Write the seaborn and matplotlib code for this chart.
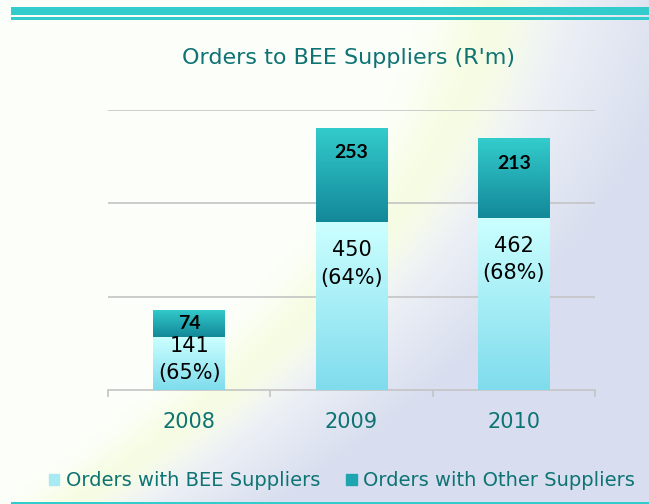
import numpy as np
import pandas as pd
import seaborn as sns
import matplotlib.pyplot as plt
from matplotlib.colors import LinearSegmentedColormap
from matplotlib.patches import Patch

# values (R'm)
years = ['2008', '2009', '2010']
bee_orders = [141, 450, 462]
other_orders = [74, 253, 213]
bee_pct = [65, 64, 68]

TEAL = '#33CCCC'
TEXT_TEAL = '#0E7373'

df = pd.DataFrame({'year': years, 'bee': bee_orders, 'other': other_orders})
df['total'] = df['bee'] + df['other']

sns.set_style('white')
plt.rcParams['font.family'] = ['DejaVu Sans']

fig = plt.figure(figsize=(6.49, 5.04), dpi=100)

# background: white on the left, lavender on the right, pale yellow-green swoosh between
bg = fig.add_axes([0, 0, 1, 1], zorder=-10)
gx, gy = np.meshgrid(np.linspace(0, 1, 400), np.linspace(0, 1, 300))
centre = 0.76 - 0.15 * gy - 0.5 * gy ** 2
base = np.clip((gx - centre) / 0.32, 0, 1)[..., None] ** 0.8
white = np.array([0.99, 1.0, 0.98])
lav = np.array([0.85, 0.87, 0.94])
img = white * (1 - base) + lav * base
streak = np.exp(-((gx - centre) / 0.07) ** 2)[..., None]
yg = np.array([0.96, 0.99, 0.87])
img = img * (1 - 0.8 * streak) + yg * 0.8 * streak
bg.imshow(img, aspect='auto', extent=(0, 1, 0, 1), origin='upper')
bg.set_xlim(0, 1)
bg.set_ylim(0, 1)
bg.axis('off')

# teal rules top and bottom
for y0, h in [(504 - 15, 8), (504 - 20, 3), (0, 2.5)]:
    fig.add_artist(plt.Rectangle((11 / 649, y0 / 504), 1, h / 504, color=TEAL, lw=0,
                                 transform=fig.transFigure))

ax = fig.add_axes([108 / 649, 1 - 390 / 504, 487 / 649, 280 / 504])
ax.patch.set_alpha(0)

sns.barplot(data=df, x='year', y='total', color='#1A9AA8', width=0.44, ax=ax, zorder=2)
sns.barplot(data=df, x='year', y='bee', color='#AEEFF5', width=0.44, ax=ax, zorder=3)

top_cmap = LinearSegmentedColormap.from_list('top', ['#138899', '#33CCCC'])
low_cmap = LinearSegmentedColormap.from_list('low', ['#7FDCEC', '#CCFFFF'])
grad = np.linspace(0, 1, 256).reshape(-1, 1)

n = len(years)
tot_patches = ax.patches[:n]
bee_patches = ax.patches[n:2 * n]
for tp, bp in zip(tot_patches, bee_patches):
    x0, w = tp.get_x(), tp.get_width()
    im = ax.imshow(grad, cmap=top_cmap, aspect='auto', origin='lower',
                   extent=(x0, x0 + w, bp.get_height(), tp.get_height()), zorder=2.5)
    im.set_clip_path(tp)
    im = ax.imshow(grad, cmap=low_cmap, aspect='auto', origin='lower',
                   extent=(x0, x0 + w, 0, bp.get_height()), zorder=3.5)
    im.set_clip_path(bp)
    tp.set_alpha(0)
    bp.set_alpha(0)

ax.set_xlim(-0.5, n - 0.5)
ax.set_ylim(0, 750)

# value labels
px_per_unit = 280 / 750
for i, row in df.iterrows():
    top_px = row['other'] * px_per_unit
    ax.annotate(str(row['other']), xy=(i, row['total']), xytext=(0, -min(25, top_px / 2) * 0.72),
                textcoords='offset points', ha='center', va='center',
                fontsize=14, fontweight='bold', family='Lato', color='black', zorder=5)
    low_px = row['bee'] * px_per_unit
    ax.annotate(f"{row['bee']}\n({bee_pct[i]}%)", xy=(i, row['bee']),
                xytext=(0, -min(42, low_px / 2 - 4) * 0.72),
                textcoords='offset points', ha='center', va='center',
                fontsize=15, color='black', linespacing=1.45, zorder=5)

ax.set_yticks([250, 500, 750])
ax.set_yticklabels([])
ax.tick_params(axis='y', length=0)
ax.yaxis.grid(True, color='#C4C4C4', lw=1.2, zorder=0)
ax.set_axisbelow(True)
for s in ['top', 'right', 'left']:
    ax.spines[s].set_visible(False)
ax.spines['bottom'].set_color('#C4C4C4')
ax.spines['bottom'].set_linewidth(1.2)

ax.set_xticks(range(n))
ax.set_xticklabels(years, color=TEXT_TEAL, fontsize=15)
ax.tick_params(axis='x', length=0, pad=16)
ax.set_xticks(np.arange(-0.5, n, 1), minor=True)
ax.tick_params(axis='x', which='minor', bottom=True, length=5, color='#C4C4C4', width=1.2)
ax.set_xlabel('')
ax.set_ylabel('')

fig.text(348 / 649, 1 - 58 / 504, "Orders to BEE Suppliers (R'm)", ha='center', va='center',
         fontsize=16, color=TEXT_TEAL)

handles = [Patch(color='#A8EAF3', label='Orders with BEE Suppliers'),
           Patch(color='#1FA5B0', label='Orders with Other Suppliers')]
leg = fig.legend(handles=handles, loc='center', bbox_to_anchor=(0.527, 1 - 481 / 504), ncol=2,
                 frameon=False, fontsize=14, handlelength=0.55, handleheight=0.55,
                 handletextpad=0.35, columnspacing=1.3)
for t in leg.get_texts():
    t.set_color(TEXT_TEAL)

fig.savefig('out.png', dpi=100)
